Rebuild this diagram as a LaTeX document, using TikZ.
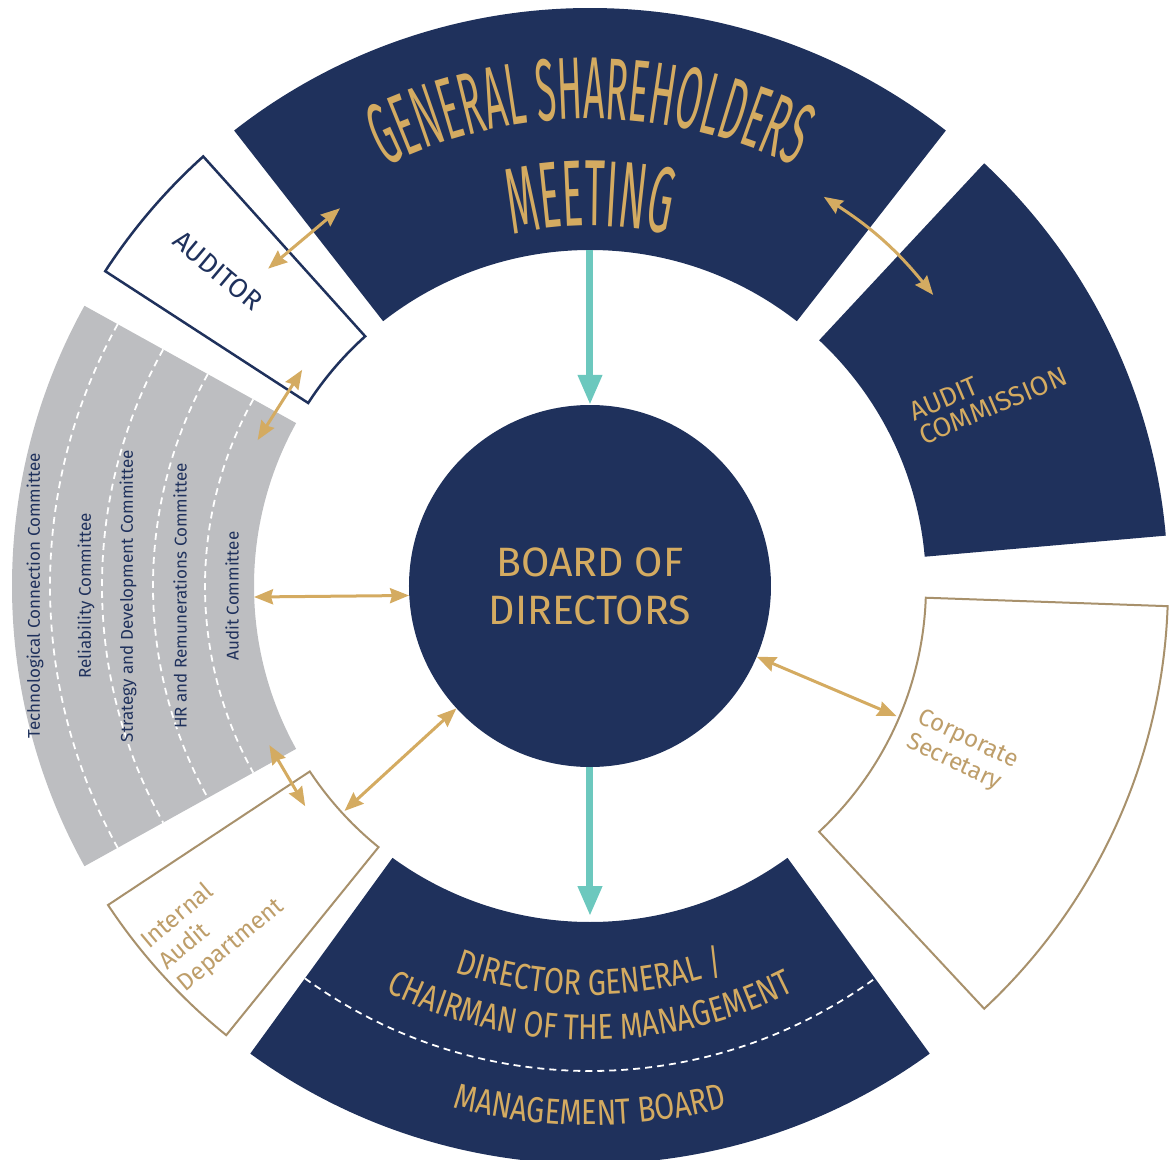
\documentclass[tikz,border=0pt]{standalone}
\usepackage{fontspec}
\setmainfont{Fira Sans}
\newfontfamily\gsmfont[FakeStretch=0.42]{Fira Sans}
\newfontfamily\narrowfont[FakeStretch=0.8]{Fira Sans}
\usepackage{tikz}
\usetikzlibrary{arrows.meta, decorations.text}
\definecolor{ringnavy}{HTML}{1F315C}
\definecolor{ringgold}{HTML}{D4AB61}
\definecolor{ringtan}{HTML}{A8916C}
\definecolor{ringlabel}{HTML}{BE9E6A}
\definecolor{ringgray}{HTML}{BDBEC1}
\definecolor{ringteal}{HTML}{6CC8BE}

\newcommand{\ringin}{336pt}
\newcommand{\ringout}{578pt}
% one piece of the outer ring, from angle #2 to angle #3
\newcommand{\ringpart}[3]{%
  \path[#1] (#2:\ringin) -- (#2:\ringout) arc[start angle=#2, end angle=#3, radius=\ringout]
    -- (#3:\ringin) arc[start angle=#3, end angle=#2, radius=\ringin] -- cycle;}
% gold text set along an arc: radius, start, end, font, text
\newcommand{\arctext}[5]{%
  \path[decorate, decoration={text along path, text align=center, text color=ringgold, text={|#4|#5}}]
    (#2:#1) arc[start angle=#2, end angle=#3, radius=#1];}
\newcommand{\gsmstyle}{\fontsize{88}{94}\gsmfont}
\newcommand{\meetstyle}{\fontsize{94}{100}\gsmfont}
\newcommand{\mgmtstyle}{\fontsize{36}{40}\narrowfont}

\begin{document}
\begin{tikzpicture}[
        x=1pt, y=1pt,
        goldtip/.tip={Stealth[length=19pt, width=15pt, inset=2pt]},
        tealtip/.tip={Triangle[length=30pt, width=23pt]},
        board/.style={circle, fill=ringnavy, minimum size=362pt, inner sep=0pt, text=ringgold, align=center, font=\fontsize{41}{48}\selectfont},
        commtext/.style={rotate=90, text=ringnavy, font=\fontsize{17}{20}\selectfont, inner sep=0pt},
        commdash/.style={draw=white, line width=1.8pt, dash pattern=on 7pt off 5pt},
        boxtext/.style={align=left, inner sep=0pt},
        tealarrow/.style={-tealtip, line width=7pt, color=ringteal},
        goldarrow/.style={goldtip-goldtip, line width=3pt, color=ringgold}
    ]
    \useasboundingbox (-590,-574) rectangle (581,586);

    % outer ring
    \ringpart{fill=ringnavy}{52}{128}
    \ringpart{fill=ringnavy}{5}{47}
    \ringpart{fill=ringnavy}{234}{306}
    \ringpart{fill=ringgray}{151}{209}
    \ringpart{fill=white, draw=ringnavy, line width=2.5pt}{132}{147}
    \ringpart{fill=white, draw=ringtan, line width=2pt}{213.5}{231}
    \ringpart{fill=white, draw=ringtan, line width=2pt}{313}{358}

    \foreach \r in {385,437,488,540}
        \draw[commdash] (151:\r pt) arc[start angle=151, end angle=209, radius=\r pt];
    \draw[commdash] (234:485pt) arc[start angle=234, end angle=306, radius=485pt];

    \node[board] (board) at (0,0) {BOARD OF\\DIRECTORS};

    \arctext{467pt}{128}{52}{\gsmstyle}{GENERAL SHAREHOLDERS}
    \arctext{360pt}{128}{52}{\meetstyle}{MEETING}
    \arctext{409pt}{234}{306}{\mgmtstyle}{DIRECTOR GENERAL /}
    \arctext{454pt}{234}{306}{\mgmtstyle}{CHAIRMAN OF THE MANAGEMENT}
    \arctext{539pt}{234}{306}{\mgmtstyle}{MANAGEMENT BOARD}

    \foreach \r/\name [count=\i] in {555/Technological Connection Committee, 504/Reliability Committee, 462/Strategy and Development Committee, 410/HR and Remunerations Committee, 358/Audit Committee}
        \node[commtext] (comm\i) at (-\r,-10) {\name};

    \node[boxtext, text=ringnavy, rotate=-40, font=\fontsize{27}{28}\selectfont] (auditor) at (-372,315) {AUDITOR};
    \node[boxtext, text=ringgold, rotate=23, font=\fontsize{27}{26}\selectfont] (acom) at (398,192) {AUDIT\\COMMISSION};
    \node[boxtext, text=ringlabel, rotate=-25, font=\fontsize{24}{27}\selectfont] (secretary) at (372,-166) {Corporate\\Secretary};
    \node[boxtext, text=ringlabel, rotate=40, font=\fontsize{24}{28}\selectfont] (iad) at (-377,-338) {Internal\\Audit\\Department};

    % end points of the connectors on the ring
    \coordinate (gsm-in) at (90:\ringin);
    \coordinate (mgmt-in) at (270:330pt);
    \coordinate (comm-in) at (-336,-11);
    \coordinate (sec-in) at (-23:333pt);
    \coordinate (iad-in) at (222.5:333pt);
    \coordinate (comm-low) at (206.4:358pt);
    \coordinate (iad-top) at (217.7:360pt);
    \coordinate (comm-up) at (156.3:363pt);
    \coordinate (aud-low) at (143.1:360pt);
    \coordinate (aud-up) at (135.4:452pt);
    \coordinate (gsm-left) at (123.5:453pt);
    \coordinate (gsm-right) at (59:454pt);
    \coordinate (acom-top) at (40.3:450pt);

    \draw[tealarrow] (gsm-in) -- (board);
    \draw[tealarrow] (board) -- (mgmt-in);
    \draw[goldarrow] (board.183.5) -- (comm-in);
    \draw[goldarrow] (board) -- (sec-in);
    \draw[goldarrow] (board) -- (iad-in);
    \draw[goldarrow] (comm-low) -- (iad-top);
    \draw[goldarrow] (comm-up) -- (aud-low);
    \draw[goldarrow] (aud-up) -- (gsm-left);
    \draw[goldarrow] (gsm-right) to[bend left=9] (acom-top);
\end{tikzpicture}
\end{document}
